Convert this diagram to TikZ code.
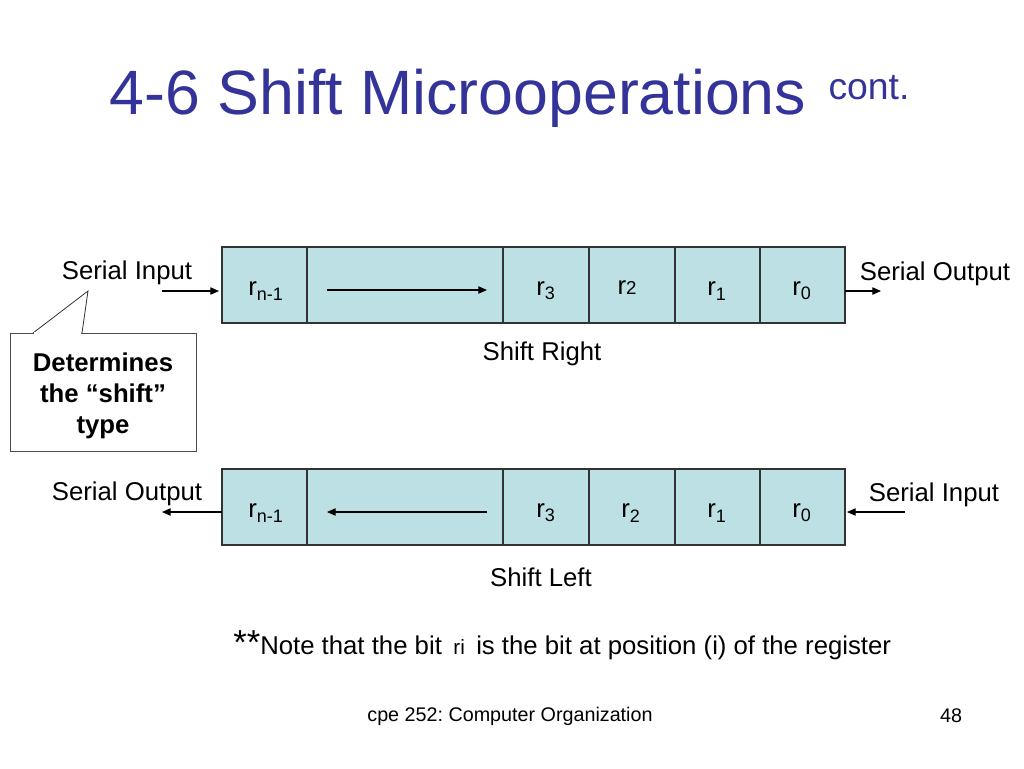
\documentclass[tikz,border=0pt]{standalone}
\usepackage{fontspec}
\setmainfont{Liberation Sans}
\usetikzlibrary{arrows.meta}
\definecolor{cellfill}{HTML}{BCE0E3}
\definecolor{titleblue}{HTML}{333399}
\newcommand{\fs}[1]{\fontsize{#1}{#1}\selectfont}
\frenchspacing
\begin{document}
\begin{tikzpicture}[x=0.75pt,y=-0.75pt,
  cell/.style={draw=black!80,fill=cellfill,line width=0.8pt,minimum height=57pt,inner sep=0pt},
  lbl/.style={inner sep=0pt,font=\fs{19.3}},
  arr/.style={-{Triangle[length=6.5pt,width=5.5pt]},line width=0.8pt}]
\useasboundingbox (0,0) rectangle (1024,768);
% title
\node[inner sep=0pt,text=titleblue,font=\fs{47}] (title) at (458,98) {4-6 Shift Microoperations};
\node[inner sep=0pt,text=titleblue,font=\fs{28}] (cont) at (869,88) {cont.};
% top register
\foreach \n/\l/\r in {a/222/307,b/307/503,c/503/589,d/589/675,e/675/760,f/760/845}{
  \node[cell,minimum width={(\r-\l)*0.75pt}] (T\n) at ({(\l+\r)/2},285) {};
}
\node[lbl] (Tla) at (266,291) {r\textsubscript{n-1}};
\node[lbl] (Tlc) at (546,291) {r\textsubscript{3}};
\node[lbl] (Tld) at (627,288) {r{\fs{14}2}};
\node[lbl] (Tle) at (717,291) {r\textsubscript{1}};
\node[lbl] (Tlf) at (802,291) {r\textsubscript{0}};
\coordinate (Tar1) at (327,290);
\coordinate (Tar2) at (487,290);
\draw[arr] (Tar1) -- (Tar2);
\node[lbl] (SI1) at (127,273) {Serial Input};
\coordinate (SI1s) at (162,291);
\coordinate (SI1e) at (219,291);
\draw[arr] (SI1s) -- (SI1e);
\node[lbl] (SO1) at (935,274) {Serial Output};
\coordinate (SO1s) at (845,291);
\coordinate (SO1e) at (881,291);
\draw[arr] (SO1s) -- (SO1e);
\node[lbl] (SR) at (542,354) {Shift Right};
% callout
\coordinate (tip) at (88,291);
\coordinate (cb1) at (33,333);
\coordinate (cb2) at (82,333);
\node[draw=black!70,fill=white,line width=0.6pt,minimum width=139.5pt,minimum height=89pt,inner sep=0pt,align=center,font=\bfseries\fs{19.3}] (call) at (103,392.5) {};
\node[inner sep=0pt,align=center,font=\bfseries\fs{19.3}] (calltext) at (103,396) {Determines\\[4pt]the “shift”\\[4pt]type};
\draw[black!80,line width=0.6pt] (cb1) -- (tip) -- (cb2);
\draw[white,line width=1.2pt] ([xshift=0.6pt]cb1) -- ([xshift=-0.6pt]cb2);
% bottom register
\foreach \n/\l/\r in {a/222/307,b/307/503,c/503/589,d/589/675,e/675/760,f/760/845}{
  \node[cell,minimum width={(\r-\l)*0.75pt}] (B\n) at ({(\l+\r)/2},507) {};
}
\node[lbl] (Bla) at (266,513) {r\textsubscript{n-1}};
\node[lbl] (Blc) at (546,513) {r\textsubscript{3}};
\node[lbl] (Bld) at (631,513) {r\textsubscript{2}};
\node[lbl] (Ble) at (717,513) {r\textsubscript{1}};
\node[lbl] (Blf) at (802,513) {r\textsubscript{0}};
\coordinate (Bar1) at (487,512);
\coordinate (Bar2) at (327,512);
\draw[arr] (Bar1) -- (Bar2);
\node[lbl] (SO2) at (127,494) {Serial Output};
\coordinate (SO2s) at (222,512);
\coordinate (SO2e) at (162,512);
\draw[arr] (SO2s) -- (SO2e);
\node[lbl] (SI2) at (934,495) {Serial Input};
\coordinate (SI2s) at (905,512);
\coordinate (SI2e) at (847,512);
\draw[arr] (SI2s) -- (SI2e);
\node[lbl] (SL) at (541,577) {Shift Left};
% note
\node[lbl,anchor=base west] (note) at (233,654) {{\fs{26}**}Note that the bit \,{\fs{15.5}ri}\, is the bit at position (i) of the register};
% footer
\node[inner sep=0pt,font=\fs{14.8}] (foot) at (510,716) {cpe 252: Computer Organization};
\node[inner sep=0pt,font=\fs{14.8}] (page) at (951,716) {48};
\end{tikzpicture}
\end{document}
